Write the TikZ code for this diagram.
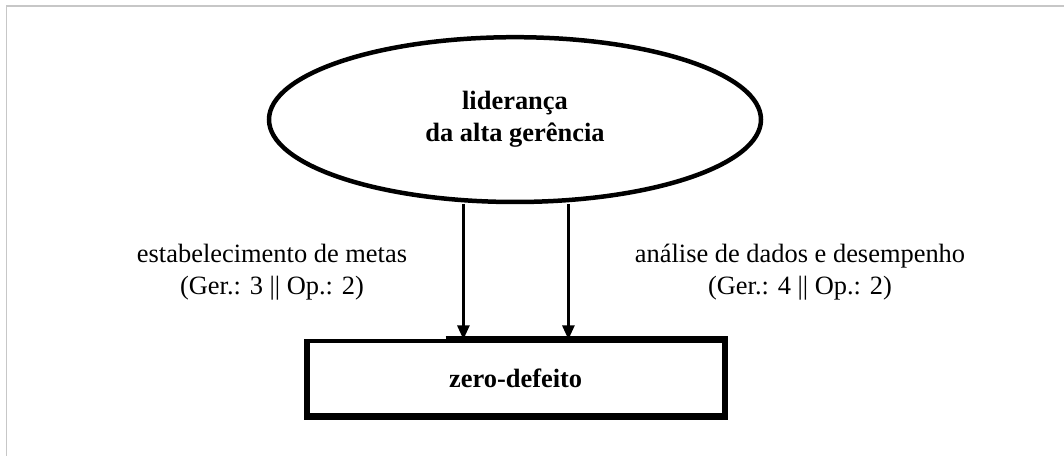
\documentclass[tikz,border=0pt]{standalone}
\usepackage{fontspec}
\setmainfont{Liberation Serif}
\usetikzlibrary{positioning}
\usetikzlibrary{arrows.meta}
\usetikzlibrary{shapes.geometric}

\tikzset{
  txt/.style={font=\fontsize{18.8}{22.8}\selectfont, align=center},
  txtb/.style={font=\fontsize{18.8}{22.8}\selectfont\bfseries, align=center},
  seta/.style={-{Triangle[length=0.35cm,width=0.3cm]}, line width=1.8pt},
}

\begin{document}
\begin{tikzpicture}
            \useasboundingbox (0,0) rectangle (26.6,11.4);
            \draw[line width=1.4pt, color=black!22] (0.1625,0) -- (0.1625,11.26) -- (26.6,11.26);
            \node[ellipse, draw, line width=3.2pt, minimum width=12.3cm, minimum height=4.12cm, inner sep=0pt, txtb] (lid) at (12.875,8.41) {liderança\\da alta gerência};
            \node[draw, line width=2.2pt, minimum width=10.375cm, minimum height=1.85cm, txtb] (zd) at (12.89,1.95) {zero-defeito};
            \draw[line width=4.3pt] ([xshift=-1.75cm]zd.north) -- (zd.north east) -- (zd.south east) -- (zd.south west) -- (zd.north west);
            \draw[seta] ([xshift=-1.29cm]lid.south) -- ([xshift=-1.29cm]lid.south |- zd.north);
            \draw[seta] ([xshift=1.335cm]lid.south) -- ([xshift=1.335cm]lid.south |- zd.north);
            \node[txt] (lbl1) at (6.8,4.6) {estabelecimento de metas\\(Ger.: 3 || Op.: 2)};
            \node[txt] (lbl2) at (20.0,4.6) {análise de dados e desempenho\\(Ger.: 4 || Op.: 2)};
        \end{tikzpicture}
\end{document}
